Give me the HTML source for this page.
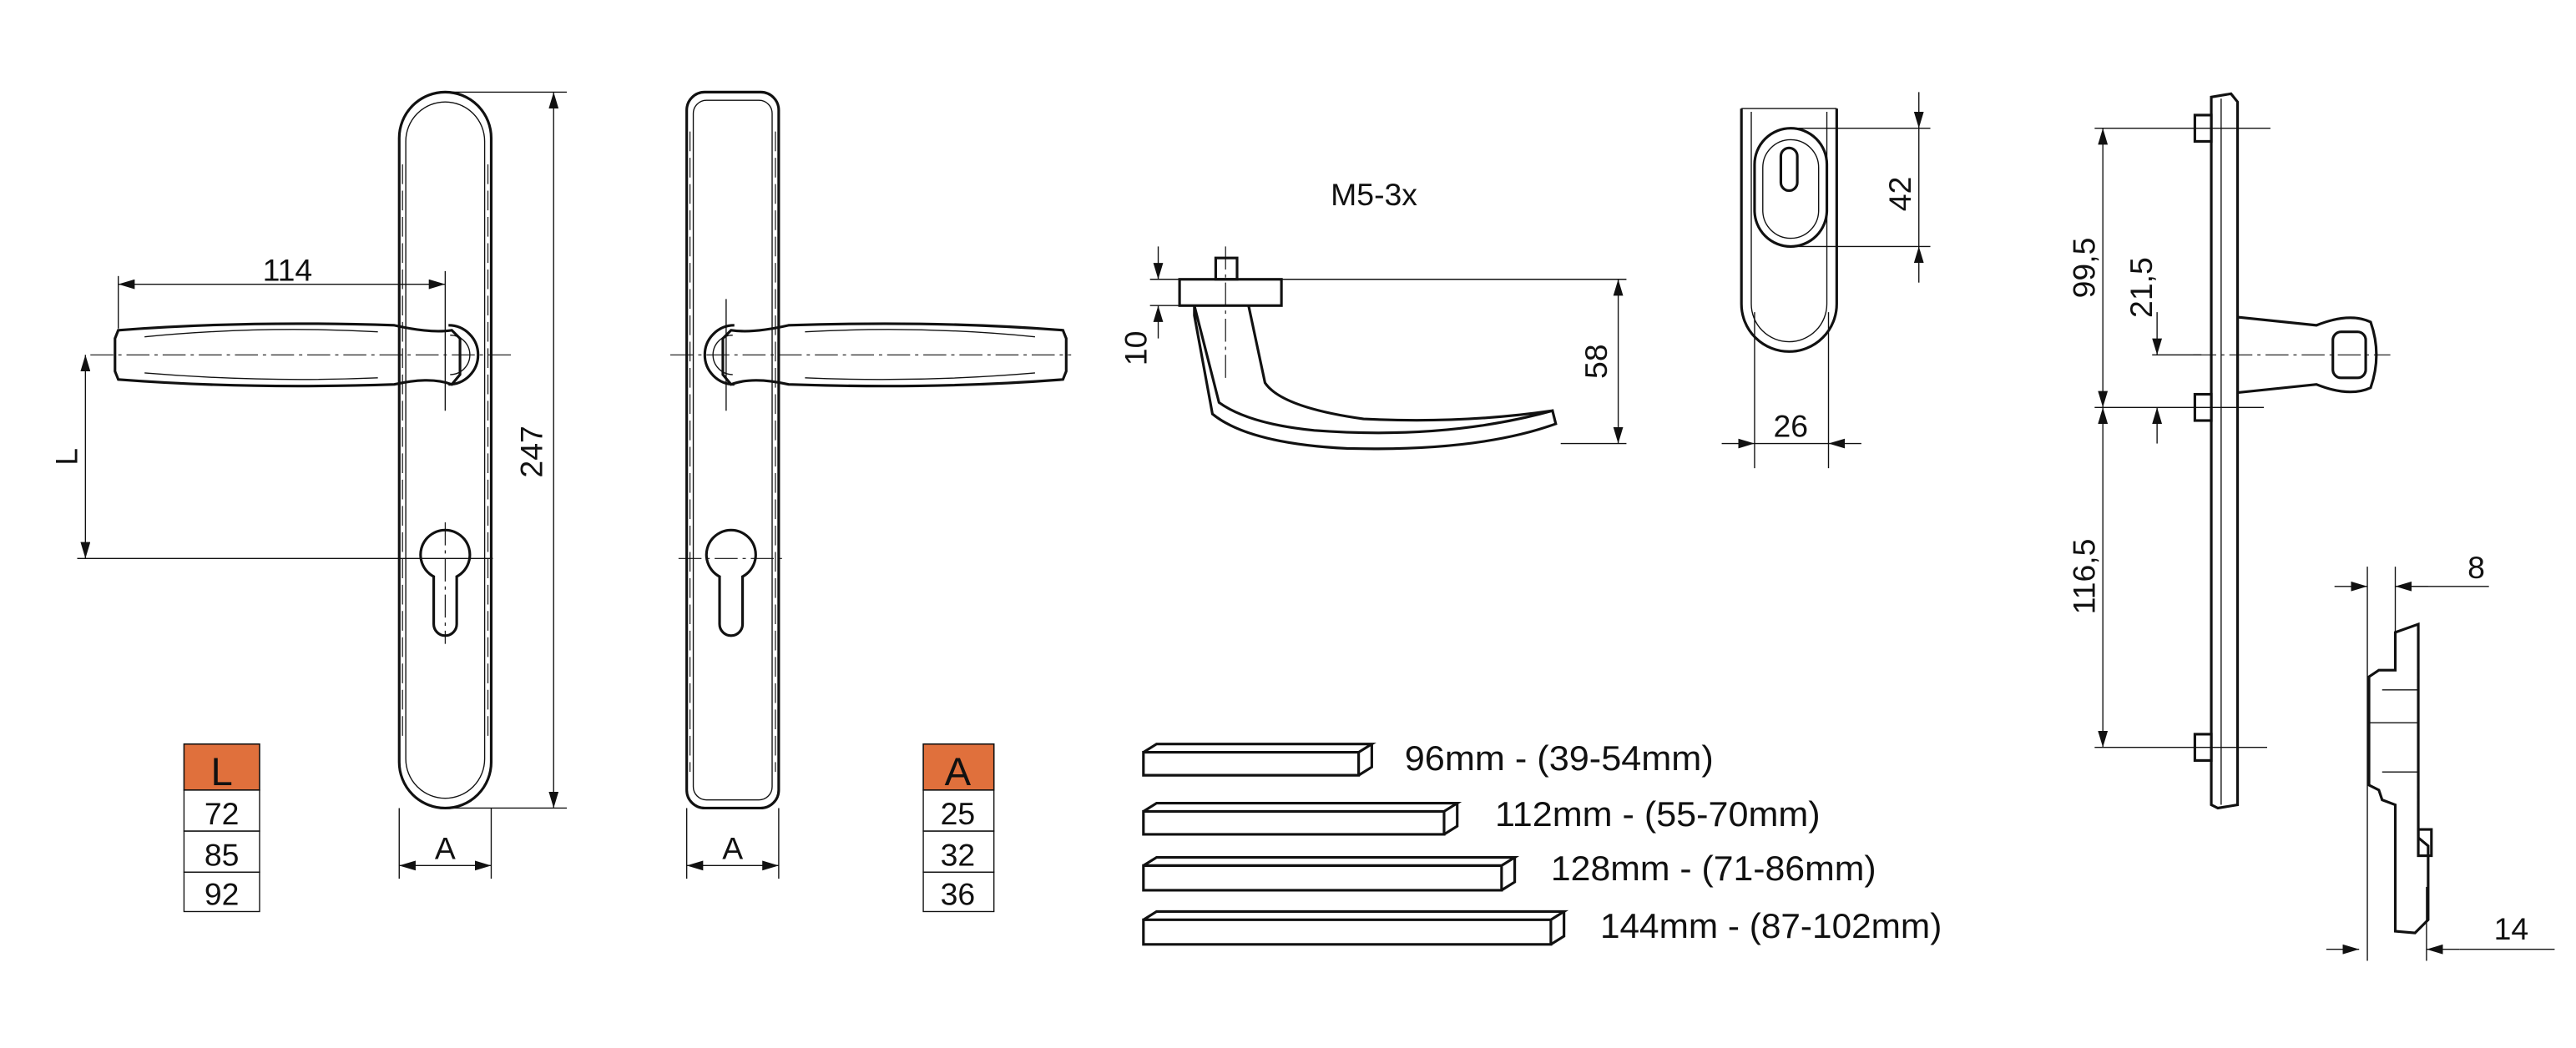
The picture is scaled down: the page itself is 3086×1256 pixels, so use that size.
<!DOCTYPE html>
<html><head><meta charset="utf-8"><style>
html,body{margin:0;padding:0;background:#fff;}
svg{display:block;}
text{font-family:"Liberation Sans Narrow","Liberation Sans",sans-serif;font-size:19px;fill:#111;}
.o{fill:none;stroke:#111;stroke-width:1.6;}
.t{fill:none;stroke:#111;stroke-width:0.7;}
.c{fill:none;stroke:#111;stroke-width:0.6;stroke-dasharray:14 3 2 3;}
.d{fill:none;stroke:#111;stroke-width:0.6;stroke-dasharray:12 4;}
.a{fill:#111;}
.big{font-size:21px;}
</style></head><body>
<svg width="3086" height="1256" viewBox="0 0 1568 638" xmlns="http://www.w3.org/2000/svg">
<defs>
<marker id="ar" viewBox="0 0 10 6" refX="10" refY="3" markerWidth="10" markerHeight="6" orient="auto-start-reverse" markerUnits="userSpaceOnUse"><path d="M0,0 L10,3 L0,6 z" class="a"/></marker>
</defs>

<!-- LEFT PLATE -->
<rect x="243" y="56" width="56" height="436" rx="28" class="o"/>
<rect x="247" y="62" width="48" height="424" rx="24" class="t"/>
<line x1="245" y1="100" x2="245" y2="450" class="d"/><line x1="297" y1="100" x2="297" y2="450" class="d"/>
<path d="M72,201 Q150,195 240,198 Q262,203 275,201 L280,206 L280,228 L275,234 Q262,229 240,234 Q150,237 72,231 L70,226 L70,206 Z" class="o" fill="#fff"/>
<path d="M88,205 Q160,198 230,202 M88,227 Q160,233 230,230" class="t"/>
<path d="M273,198 A18,18 0 1 1 273,234" class="o"/>
<path d="M274,204 A12,12 0 0 1 274,228" class="t"/>
<line x1="55" y1="216" x2="312" y2="216" class="c"/>
<line x1="271" y1="165" x2="271" y2="250" class="t"/>
<path d="M264,351 A15,15 0 1 1 278,351 L278,380 A7,7 0 0 1 264,380 Z" class="o"/>
<line x1="271" y1="318" x2="271" y2="392" class="c"/>
<line x1="72" y1="173" x2="271" y2="173" class="t" marker-start="url(#ar)" marker-end="url(#ar)"/>
<line x1="72" y1="168" x2="72" y2="200" class="t"/>
<text x="175" y="171" text-anchor="middle">114</text>
<line x1="52" y1="216" x2="52" y2="340" class="t" marker-start="url(#ar)" marker-end="url(#ar)"/>
<line x1="47" y1="340" x2="300" y2="340" class="t"/>
<text transform="translate(47,278) rotate(-90)" text-anchor="middle">L</text>
<line x1="271" y1="56" x2="345" y2="56" class="t"/><line x1="271" y1="492" x2="345" y2="492" class="t"/>
<line x1="337" y1="56" x2="337" y2="492" class="t" marker-start="url(#ar)" marker-end="url(#ar)"/>
<text transform="translate(330,275) rotate(-90)" text-anchor="middle">247</text>
<line x1="243" y1="492" x2="243" y2="535" class="t"/><line x1="299" y1="492" x2="299" y2="535" class="t"/>
<line x1="243" y1="527" x2="299" y2="527" class="t" marker-start="url(#ar)" marker-end="url(#ar)"/>
<text x="271" y="523" text-anchor="middle">A</text>

<rect x="112" y="453" width="46" height="28" fill="#e0703c" stroke="#111" stroke-width="0.8"/>
<text x="135" y="478" text-anchor="middle" style="font-size:24px">L</text>
<rect x="112" y="481" width="46" height="25" class="t"/><rect x="112" y="506" width="46" height="25" class="t"/><rect x="112" y="531" width="46" height="24" class="t"/>
<text x="135" y="502" text-anchor="middle">72</text><text x="135" y="527" text-anchor="middle">85</text><text x="135" y="551" text-anchor="middle">92</text>

<!-- RIGHT PLATE -->
<rect x="418" y="56" width="56" height="436" rx="11" class="o"/>
<rect x="422" y="61" width="48" height="426" rx="8" class="t"/>
<line x1="420" y1="80" x2="420" y2="470" class="d"/><line x1="472" y1="80" x2="472" y2="470" class="d"/>
<path d="M647,201 Q570,195 480,198 Q458,203 445,201 L440,206 L440,228 L445,234 Q458,229 480,234 Q570,237 647,231 L649,226 L649,206 Z" class="o" fill="#fff"/>
<path d="M630,205 Q560,198 490,202 M630,227 Q560,233 490,230" class="t"/>
<path d="M447,198 A18,18 0 1 0 447,234" class="o"/>
<path d="M446,204 A12,12 0 0 0 446,228" class="t"/>
<line x1="408" y1="216" x2="652" y2="216" class="c"/>
<line x1="442" y1="182" x2="442" y2="250" class="t"/>
<path d="M438,351 A15,15 0 1 1 452,351 L452,380 A7,7 0 0 1 438,380 Z" class="o"/>
<line x1="413" y1="340" x2="478" y2="340" class="c"/>
<line x1="418" y1="492" x2="418" y2="535" class="t"/><line x1="474" y1="492" x2="474" y2="535" class="t"/>
<line x1="418" y1="527" x2="474" y2="527" class="t" marker-start="url(#ar)" marker-end="url(#ar)"/>
<text x="446" y="523" text-anchor="middle">A</text>

<rect x="562" y="453" width="43" height="28" fill="#e0703c" stroke="#111" stroke-width="0.8"/>
<text x="583" y="478" text-anchor="middle" style="font-size:24px">A</text>
<rect x="562" y="481" width="43" height="25" class="t"/><rect x="562" y="506" width="43" height="25" class="t"/><rect x="562" y="531" width="43" height="24" class="t"/>
<text x="583" y="502" text-anchor="middle">25</text><text x="583" y="527" text-anchor="middle">32</text><text x="583" y="551" text-anchor="middle">36</text>

<!-- SIDE HANDLE -->
<text x="810" y="125">M5-3x</text>
<rect x="740" y="157" width="13" height="13" class="o"/>
<rect x="718" y="170" width="62" height="16" class="o"/>
<path d="M727,186 L742,245 Q760,258 800,262 Q880,268 945,250 L947,258 Q900,275 820,273 Q760,270 738,252 L727,192 Z M760,186 L770,233 Q780,248 830,255 Q890,258 945,250" class="o"/>
<line x1="746" y1="150" x2="746" y2="230" class="c"/>
<line x1="700" y1="170" x2="990" y2="170" class="t"/><line x1="700" y1="186" x2="718" y2="186" class="t"/>
<line x1="705" y1="150" x2="705" y2="170" class="t" marker-end="url(#ar)"/><line x1="705" y1="206" x2="705" y2="186" class="t" marker-end="url(#ar)"/>
<text transform="translate(698,212) rotate(-90)" text-anchor="middle">10</text>
<line x1="950" y1="270" x2="990" y2="270" class="t"/>
<line x1="985" y1="170" x2="985" y2="270" class="t" marker-start="url(#ar)" marker-end="url(#ar)"/>
<text transform="translate(978,220) rotate(-90)" text-anchor="middle">58</text>

<!-- ESCUTCHEON -->
<path d="M1060,66 L1060,185 A29,29 0 0 0 1118,185 L1118,66" class="o"/>
<path d="M1066,68 L1066,185 A23,23 0 0 0 1112,185 L1112,68" class="t"/>
<line x1="1060" y1="66" x2="1118" y2="66" class="t"/>
<rect x="1068" y="78" width="44" height="72" rx="22" class="o"/>
<rect x="1073" y="85" width="34" height="60" rx="17" class="t"/>
<rect x="1084" y="90" width="10" height="26" rx="5" class="o"/>
<line x1="1090" y1="78" x2="1175" y2="78" class="t"/><line x1="1090" y1="150" x2="1175" y2="150" class="t"/>
<line x1="1168" y1="56" x2="1168" y2="78" class="t" marker-end="url(#ar)"/><line x1="1168" y1="172" x2="1168" y2="150" class="t" marker-end="url(#ar)"/>
<line x1="1168" y1="78" x2="1168" y2="150" class="t"/>
<text transform="translate(1163,118) rotate(-90)" text-anchor="middle">42</text>
<line x1="1068" y1="190" x2="1068" y2="285" class="t"/><line x1="1113" y1="190" x2="1113" y2="285" class="t"/>
<line x1="1048" y1="270" x2="1068" y2="270" class="t" marker-end="url(#ar)"/><line x1="1133" y1="270" x2="1113" y2="270" class="t" marker-end="url(#ar)"/>
<line x1="1068" y1="270" x2="1113" y2="270" class="t"/>
<text x="1090" y="266" text-anchor="middle">26</text>

<!-- SIDE PROFILE -->
<path d="M1346,59 L1358,57 L1362,62 L1362,490 L1350,492 L1346,490 Z" class="o"/>
<line x1="1352" y1="60" x2="1352" y2="490" class="t"/>
<rect x="1336" y="70" width="10" height="16" class="o"/><rect x="1336" y="240" width="10" height="16" class="o"/><rect x="1336" y="447" width="10" height="16" class="o"/>
<path d="M1362,193 L1410,198 Q1430,190 1443,196 Q1450,216 1443,236 Q1430,242 1410,234 L1362,239 Z" class="o"/>
<rect x="1420" y="202" width="20" height="28" rx="5" class="o"/>
<line x1="1335" y1="216" x2="1455" y2="216" class="c"/>
<line x1="1275" y1="78" x2="1382" y2="78" class="t"/><line x1="1275" y1="248" x2="1378" y2="248" class="t"/><line x1="1275" y1="455" x2="1380" y2="455" class="t"/>
<line x1="1280" y1="78" x2="1280" y2="248" class="t" marker-start="url(#ar)" marker-end="url(#ar)"/>
<line x1="1280" y1="248" x2="1280" y2="455" class="t" marker-start="url(#ar)" marker-end="url(#ar)"/>
<text transform="translate(1275,163) rotate(-90)" text-anchor="middle">99,5</text>
<text transform="translate(1275,351) rotate(-90)" text-anchor="middle">116,5</text>
<line x1="1310" y1="216" x2="1340" y2="216" class="t"/>
<line x1="1313" y1="190" x2="1313" y2="216" class="t" marker-end="url(#ar)"/><line x1="1313" y1="270" x2="1313" y2="248" class="t" marker-end="url(#ar)"/>
<text transform="translate(1310,175) rotate(-90)" text-anchor="middle">21,5</text>

<!-- SMALL PROFILE -->
<path d="M1458,385 L1472,380 L1472,510 L1478,515 L1478,560 L1470,568 L1458,567 L1458,490 L1450,487 L1448,481 L1442,478 L1442,412 L1448,408 L1458,408 Z" class="o"/>
<line x1="1442" y1="440" x2="1472" y2="440" class="t"/><line x1="1450" y1="420" x2="1472" y2="420" class="t"/>
<line x1="1450" y1="470" x2="1472" y2="470" class="t"/>
<rect x="1472" y="505" width="8" height="16" class="o"/>
<line x1="1441" y1="345" x2="1441" y2="585" class="t"/><line x1="1458" y1="345" x2="1458" y2="400" class="t"/><line x1="1477" y1="540" x2="1477" y2="585" class="t"/>
<line x1="1421" y1="357" x2="1441" y2="357" class="t" marker-end="url(#ar)"/><line x1="1478" y1="357" x2="1458" y2="357" class="t" marker-end="url(#ar)"/>
<line x1="1458" y1="357" x2="1515" y2="357" class="t"/>
<text x="1502" y="352">8</text>
<line x1="1416" y1="578" x2="1436" y2="578" class="t" marker-end="url(#ar)"/><line x1="1497" y1="578" x2="1477" y2="578" class="t" marker-end="url(#ar)"/>
<line x1="1497" y1="578" x2="1555" y2="578" class="t"/>
<text x="1518" y="572">14</text>

<!-- SPINDLES -->
<g class="o" stroke-width="1.2">
<path d="M696,458 L827,458 L827,472 L696,472 Z M696,458 L704,453 L835,453 L827,458 M835,453 L835,467 L827,472"/>
<path d="M696,494 L879,494 L879,508 L696,508 Z M696,494 L704,489 L887,489 L879,494 M887,489 L887,503 L879,508"/>
<path d="M696,527 L914,527 L914,542 L696,542 Z M696,527 L704,522 L922,522 L914,527 M922,522 L922,537 L914,542"/>
<path d="M696,560 L944,560 L944,575 L696,575 Z M696,560 L704,555 L952,555 L944,560 M952,555 L952,570 L944,575"/>
</g>
<text class="big" x="855" y="469" textLength="188" lengthAdjust="spacingAndGlyphs">96mm - (39-54mm)</text>
<text class="big" x="910" y="503" textLength="198" lengthAdjust="spacingAndGlyphs">112mm - (55-70mm)</text>
<text class="big" x="944" y="536" textLength="198" lengthAdjust="spacingAndGlyphs">128mm - (71-86mm)</text>
<text class="big" x="974" y="571" textLength="208" lengthAdjust="spacingAndGlyphs">144mm - (87-102mm)</text>
</svg>
</body></html>
